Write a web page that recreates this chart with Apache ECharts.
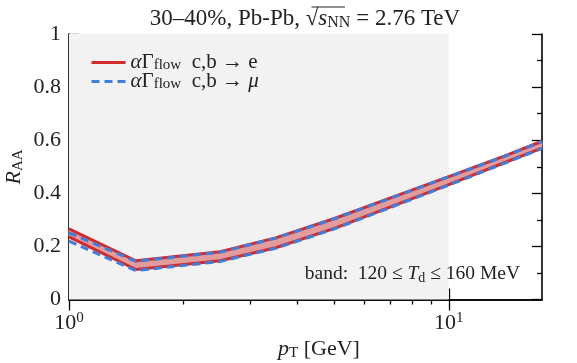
<!DOCTYPE html>
<html><head><meta charset="utf-8">
<script src="https://cdn.jsdelivr.net/npm/echarts@6/dist/echarts.min.js"></script>
<style>html,body{margin:0;padding:0;background:#fff}#c{width:577px;height:363px}</style>
</head><body><div id="c"></div>
<script>
const pT      = [1,     1.5,   2.5,   3.5,   5,     7,     10,    14,    17.6];
const eUpper  = [0.266, 0.146, 0.180, 0.232, 0.305, 0.382, 0.463, 0.540, 0.596];
const eLower  = [0.236, 0.113, 0.146, 0.195, 0.268, 0.348, 0.433, 0.515, 0.570];
const muUpper = [0.251, 0.144, 0.178, 0.231, 0.304, 0.381, 0.462, 0.539, 0.595];
const muLower = [0.220, 0.109, 0.143, 0.193, 0.266, 0.346, 0.431, 0.513, 0.569];
const shadedRange = [1, 10];
const xMajor = [1, 10];
const xMinor = [2, 3, 4, 5, 6, 7, 8, 9];
const yMajor = [0, 0.2, 0.4, 0.6, 0.8, 1];
const yMinor = [0.1, 0.3, 0.5, 0.7, 0.9];
const xRange = [1, 17.6];

const FONT = 'Liberation Serif';
const TXT = '#222';
const RED = '#d42a2e';
const BLUE = '#3f7fdc';
const pairs = ys => pT.map((x, i) => [x, ys[i]]);
const bandSegs = pT.slice(0, -1).map((x, i) => [x, eLower[i], eUpper[i], pT[i + 1], eLower[i + 1], eUpper[i + 1]]);

const chart = echarts.init(document.getElementById('c'), null, {renderer: 'canvas'});
const lineAxis = {show: true, lineStyle: {color: '#000', width: 1.6}};
function xAx(pos, ticks, len, labels, line) {
  return {
    type: 'log', logBase: 10, min: xRange[0], max: xRange[1], position: pos,
    axisLine: line ? lineAxis : {show: false},
    splitLine: {show: false},
    axisTick: {show: true, inside: true, length: len, customValues: ticks, lineStyle: {color: '#000', width: 1.3}},
    axisLabel: labels ? {
      show: true, customValues: ticks, margin: 11,
      formatter: v => '{b|10}{s|' + Math.round(Math.log10(v)) + '}',
      rich: {b: {fontFamily: FONT, fontSize: 22, color: TXT}, s: {fontFamily: FONT, fontSize: 15, color: TXT, verticalAlign: 'top', padding: [0, 0, 10, 0]}}
    } : {show: false}
  };
}
function yAx(pos, ticks, len, labels, line) {
  return {
    type: 'value', min: 0, max: 1, position: pos,
    axisLine: line ? lineAxis : {show: false},
    splitLine: {show: false},
    axisTick: {show: true, inside: true, length: len, customValues: ticks, lineStyle: {color: '#000', width: 1.3}},
    axisLabel: labels ? {show: true, customValues: ticks, margin: 8, fontFamily: FONT, fontSize: 22, color: TXT,
      formatter: v => String(+v.toFixed(1))} : {show: false}
  };
}

const option = {
  animation: false,
  grid: {left: 69, right: 35, top: 34, bottom: 63.5},
  title: [
    {text: '30–40%, Pb-Pb, {r|√}{it|s}{sub|NN}{r| = 2.76 TeV}', left: 300, top: 1, textAlign: 'center',
     textStyle: {fontFamily: FONT, fontSize: 23, fontWeight: 'normal', color: TXT,
       rich: {r: {fontFamily: FONT, fontSize: 23, color: TXT},
              it: {fontFamily: FONT, fontSize: 23, fontStyle: 'italic', color: TXT},
              sub: {fontFamily: FONT, fontSize: 16, color: TXT, verticalAlign: 'bottom', padding: [9, 0, 0, 0]}}}},
    {text: 'band:  120 ≤ {it|T}{sub|d} ≤ 160 MeV', right: 52, top: 258, textAlign: 'left',
     textStyle: {fontFamily: FONT, fontSize: 19.5, fontWeight: 'normal', color: TXT,
       rich: {it: {fontFamily: FONT, fontSize: 19.5, fontStyle: 'italic', color: TXT},
              sub: {fontFamily: FONT, fontSize: 14, color: TXT, verticalAlign: 'bottom', padding: [8, 0, 0, 0]}}}}
  ],
  legend: {
    left: 85, top: 46, orient: 'vertical', itemWidth: 34, itemHeight: 14, itemGap: -3,
    data: ['e', 'mu'],
    itemStyle: {color: 'rgba(0,0,0,0)', borderWidth: 0},
    lineStyle: {width: 3},
    formatter: n => '{i|α}{r|Γ}{sub|flow}{r|  c,b → ' + (n === 'e' ? 'e}' : '}{i|μ}'),
    textStyle: {fontFamily: FONT, fontSize: 21, color: TXT, lineHeight: 21,
      rich: {i: {fontFamily: FONT, fontSize: 21, fontStyle: 'italic', color: TXT, lineHeight: 21},
             r: {fontFamily: FONT, fontSize: 21, color: TXT, lineHeight: 21},
             sub: {fontFamily: FONT, fontSize: 15, color: TXT, verticalAlign: 'bottom', lineHeight: 21, padding: [7, 0, 0, 0]}}}
  },
  xAxis: [xAx('bottom', xMajor, 11, true, true), xAx('bottom', xMinor, 5, false, false),
          xAx('top', xMajor, 11, false, true), xAx('top', xMinor, 5, false, false)],
  yAxis: [yAx('left', yMajor, 10, true, true), yAx('left', yMinor, 5, false, false),
          yAx('right', yMajor, 10, false, true), yAx('right', yMinor, 5, false, false)],
  series: [
    {name: 'shade', type: 'line', data: pairs(eLower), symbol: 'none', lineStyle: {opacity: 0}, z: 1, silent: true,
     markArea: {silent: true, itemStyle: {color: '#f2f2f2'}, data: [[{xAxis: shadedRange[0]}, {xAxis: shadedRange[1]}]]}},
    {name: 'band', type: 'custom', z: 2, silent: true,
     encode: {x: [0, 3], y: [1, 2, 4, 5]},
     data: bandSegs,
     renderItem: (params, api) => {
       const a = api.coord([api.value(0), api.value(2)]);
       const b = api.coord([api.value(3), api.value(5)]);
       const c = api.coord([api.value(3), api.value(4)]);
       const d = api.coord([api.value(0), api.value(1)]);
       return {type: 'polygon', shape: {points: [a, b, c, d]},
               style: {fill: '#e29c9c', stroke: '#e29c9c', lineWidth: 0.6}};
     }},
    {name: 'e', type: 'line', data: pairs(eUpper), symbol: 'none', lineStyle: {color: RED, width: 3}, itemStyle: {color: RED}, z: 3},
    {name: 'e', type: 'line', data: pairs(eLower), symbol: 'none', lineStyle: {color: RED, width: 3}, itemStyle: {color: RED}, z: 3},
    {name: 'mu', type: 'line', data: pairs(muUpper), symbol: 'none', lineStyle: {color: BLUE, width: 3, type: [8, 5]}, itemStyle: {color: BLUE}, z: 4},
    {name: 'mu', type: 'line', data: pairs(muLower), symbol: 'none', lineStyle: {color: BLUE, width: 3, type: [8, 5]}, itemStyle: {color: BLUE}, z: 4}
  ],
  graphic: [
    {type: 'line', silent: true, shape: {x1: 311.5, y1: 7, x2: 345, y2: 7}, style: {stroke: TXT, lineWidth: 1.2}},
    {type: 'text', x: 14, y: 167, rotation: Math.PI / 2, silent: true,
     style: {text: '{it|R}{sub|AA}', textAlign: 'center', textVerticalAlign: 'middle',
       rich: {it: {fontFamily: FONT, fontSize: 22, fontStyle: 'italic', fill: TXT},
              sub: {fontFamily: FONT, fontSize: 15, fill: TXT, verticalAlign: 'bottom', padding: [8, 0, 0, 0]}}}},
    {type: 'text', x: 319, y: 349, silent: true,
     style: {text: '{it|p}{sub|T}{r| [GeV]}', textAlign: 'center', textVerticalAlign: 'middle',
       rich: {it: {fontFamily: FONT, fontSize: 22, fontStyle: 'italic', fill: TXT},
              r: {fontFamily: FONT, fontSize: 22, fill: TXT},
              sub: {fontFamily: FONT, fontSize: 15, fill: TXT, verticalAlign: 'bottom', padding: [8, 0, 0, 0]}}}}
  ]
};
chart.setOption(option);
</script></body></html>
